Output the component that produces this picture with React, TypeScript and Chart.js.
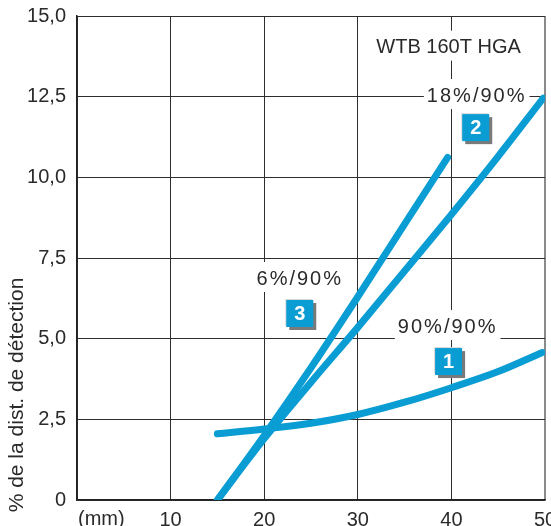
import { useEffect, useRef } from 'react';
import { Chart, registerables } from 'chart.js';

Chart.register(...registerables);

// ---- data ----
const xMin = 0;
const xMax = 50;
const xStep = 10;
const yMin = 0;
const yMax = 15;
const yStep = 2.5;

const curve1X = [15, 20, 25, 30, 35, 40, 45, 49.7];
const curve1Y = [2.05, 2.2, 2.38, 2.65, 3.03, 3.48, 3.98, 4.57];

const curve2X = [15, 20, 25, 30, 35, 40, 45, 49.8];
const curve2Y = [0, 1.9, 3.65, 5.35, 7.1, 8.85, 10.65, 12.45];

const curve3X = [15, 20, 25, 30, 35, 39.6];
const curve3Y = [0, 2.0, 4.1, 6.3, 8.55, 10.62];

const seriesNames = ['90%/90%', '18%/90%', '6%/90%'];
const seriesNumbers = ['1', '2', '3'];
const productLabel = 'WTB 160T HGA';
const xUnitLabel = '(mm)';
const yTitle = '% de la dist. de détection';

// ---- layout of annotations (data coordinates) ----
const productPos = { x: 39.7, y: 14.05 };
const namePos = [
  { x: 39.6, y: 5.39 },
  { x: 42.7, y: 12.55 },
  { x: 23.8, y: 6.88 },
];
const numberPos = [
  { x: 39.7, y: 4.29 },
  { x: 42.6, y: 11.54 },
  { x: 23.8, y: 5.78 },
];

const BLUE = '#0a9dd3';
const TEXT = '#2a2a2a';
const FONT = '"Liberation Sans", Arial, sans-serif';

const toPoints = (xs: number[], ys: number[]) => xs.map((x, i) => ({ x, y: ys[i] }));

const annotPlugin = {
  id: 'annot',
  beforeDatasetsDraw(chart: any) {
    const { ctx, scales } = chart;
    const xs = scales.x;
    const ys = scales.y;
    ctx.save();
    ctx.textAlign = 'center';
    ctx.textBaseline = 'middle';
    const drawLabel = (t: string, p: { x: number; y: number }, spacing: string) => {
      ctx.font = `20px ${FONT}`;
      (ctx as any).letterSpacing = spacing;
      const px = xs.getPixelForValue(p.x);
      const py = ys.getPixelForValue(p.y);
      const w = ctx.measureText(t).width;
      ctx.fillStyle = '#ffffff';
      ctx.fillRect(px - w / 2 - 3, py - 16, w + 6, 30);
      ctx.fillStyle = TEXT;
      ctx.fillText(t, px, py + 1);
    };
    drawLabel(productLabel, productPos, '0px');
    seriesNames.forEach((n, i) => drawLabel(n, namePos[i], '2px'));
    (ctx as any).letterSpacing = '0px';
    seriesNumbers.forEach((n, i) => {
      const px = xs.getPixelForValue(numberPos[i].x);
      const py = ys.getPixelForValue(numberPos[i].y);
      const s = 27;
      ctx.fillStyle = '#7a7a7a';
      ctx.fillRect(px - s / 2 + 3, py - s / 2 + 3, s, s);
      ctx.fillStyle = '#d8d8d8';
      ctx.fillRect(px - s / 2 - 1, py - s / 2 - 1, s, s);
      ctx.fillStyle = BLUE;
      ctx.fillRect(px - s / 2, py - s / 2, s, s);
      ctx.fillStyle = '#ffffff';
      ctx.font = `bold 20px ${FONT}`;
      ctx.fillText(n, px, py + 1);
    });
    ctx.restore();
  },
  afterDraw(chart: any) {
    const { ctx, chartArea } = chart;
    ctx.save();
    ctx.fillStyle = TEXT;
    ctx.font = `20px ${FONT}`;
    ctx.textAlign = 'left';
    ctx.textBaseline = 'alphabetic';
    ctx.fillText(xUnitLabel, chartArea.left + 1, 524.5);
    ctx.translate(17, 395);
    ctx.rotate(-Math.PI / 2);
    ctx.textAlign = 'center';
    ctx.textBaseline = 'middle';
    ctx.font = `21px ${FONT}`;
    ctx.fillText(yTitle, 0, 0);
    ctx.restore();
  },
};

export default function App() {
  const ref = useRef<HTMLCanvasElement | null>(null);
  useEffect(() => {
    document.body.style.margin = '0';
    if (!ref.current) return;
    const lineStyle = {
      borderColor: BLUE,
      borderWidth: 7,
      borderCapStyle: 'round' as const,
      borderJoinStyle: 'round' as const,
      pointRadius: 0,
      fill: false,
      cubicInterpolationMode: 'monotone' as const,
    };
    const chart = new Chart(ref.current, {
      type: 'line',
      data: {
        datasets: [
          { label: seriesNames[0], data: toPoints(curve1X, curve1Y), ...lineStyle },
          { label: seriesNames[1], data: toPoints(curve2X, curve2Y), ...lineStyle },
          { label: seriesNames[2], data: toPoints(curve3X, curve3Y), ...lineStyle },
        ],
      },
      options: {
        animation: false,
        responsive: false,
        layout: { padding: { top: 16, right: 6, left: 0, bottom: 0 } },
        plugins: { legend: { display: false }, tooltip: { enabled: false } },
        scales: {
          x: {
            type: 'linear',
            min: xMin,
            max: xMax,
            afterFit: (s: any) => {
              s.height = 26;
              s.paddingLeft = 0;
              s.paddingRight = 0;
            },
            ticks: {
              stepSize: xStep,
              padding: 8,
              color: TEXT,
              font: { family: FONT, size: 20 },
              maxRotation: 0,
              callback: (v: any) => (Number(v) === 0 ? '' : String(v)),
            },
            grid: {
              drawTicks: false,
              color: (c: any) => (c.tick && c.tick.value === xMax ? '#8a8a8a' : '#2e2e2e'),
              lineWidth: (c: any) => (c.tick && c.tick.value === xMax ? 2 : 1),
            },
            border: { color: '#222222', width: 1.5 },
          },
          y: {
            type: 'linear',
            min: yMin,
            max: yMax,
            afterFit: (s: any) => {
              s.width = 77;
              s.paddingTop = 0;
              s.paddingBottom = 0;
            },
            ticks: {
              stepSize: yStep,
              padding: 11,
              color: TEXT,
              font: { family: FONT, size: 20 },
              callback: (v: any) => (Number(v) === 0 ? '0' : Number(v).toFixed(1).replace('.', ',')),
            },
            grid: {
              drawTicks: false,
              color: '#2e2e2e',
              lineWidth: 1,
            },
            border: { color: '#222222', width: 1.5 },
          },
        },
      },
      plugins: [annotPlugin],
    });
    return () => chart.destroy();
  }, []);
  return (
    <div style={{ position: 'absolute', left: 0, top: 0, width: 551, height: 526 }}>
      <canvas ref={ref} width={551} height={526} />
    </div>
  );
}
